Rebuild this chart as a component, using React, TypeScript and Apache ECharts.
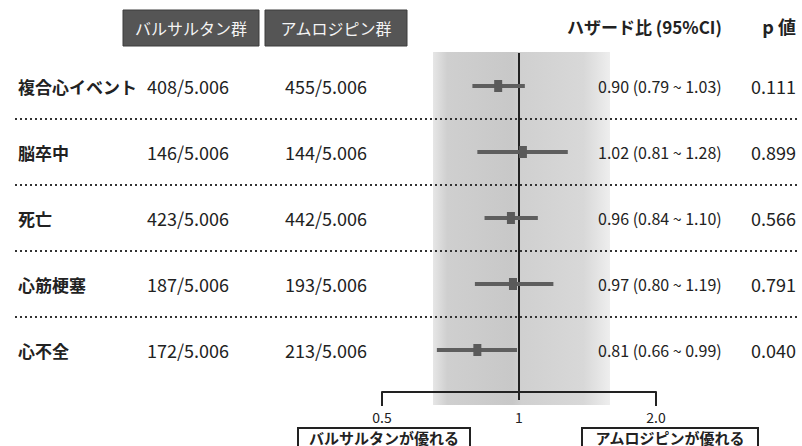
import React, { useEffect, useRef } from 'react';
import * as echarts from 'echarts';

const categories = ['複合心イベント', '脳卒中', '死亡', '心筋梗塞', '心不全'];
const valsartanEvents = ['408/5.006', '146/5.006', '423/5.006', '187/5.006', '172/5.006'];
const amlodipineEvents = ['455/5.006', '144/5.006', '442/5.006', '193/5.006', '213/5.006'];
const hazardRatio = [0.9, 1.02, 0.96, 0.97, 0.81];
const ciLower = [0.79, 0.81, 0.84, 0.8, 0.66];
const ciUpper = [1.03, 1.28, 1.1, 1.19, 0.99];
const pValues = ['0.111', '0.899', '0.566', '0.791', '0.040'];
const tickValues = [0.5, 1, 2];
const tickLabels = ['0.5', '1', '2.0'];
const groupHeaders = ['バルサルタン群', 'アムロジピン群'];
const favourLabels = ['バルサルタンが優れる', 'アムロジピンが優れる'];
const columnHeaders = ['ハザード比 (95%CI)', 'p 値'];

const JP = '"Noto Sans CJK JP", "Noto Sans", sans-serif';

export default function App() {
  const ref = useRef<HTMLDivElement>(null);
  useEffect(() => {
    if (!ref.current) return;
    const chart = echarts.init(ref.current, null, { renderer: 'svg' });
    const forestData = categories.map((_, i) => [ciLower[i], ciUpper[i], hazardRatio[i], i]);
    const textData = categories.map((_, i) => [0, i]);
    const option: any = {
      animation: false,
      backgroundColor: '#fff',
      grid: [
        { left: 382, width: 274, top: 53, height: 330 },
        { left: 15, width: 785, top: 53, height: 330 },
      ],
      xAxis: [
        {
          gridIndex: 0,
          type: 'log',
          logBase: 2,
          min: 0.5,
          max: 2,
          offset: 9,
          axisLine: { show: true, lineStyle: { color: '#222', width: 2 } },
          axisTick: { show: true, length: 14, customValues: [0.5, 2], lineStyle: { color: '#222', width: 2 } },
          axisLabel: {
            customValues: tickValues,
            margin: 18,
            color: '#222',
            fontSize: 14,
            lineHeight: 14,
            fontFamily: JP,
            formatter: (v: number) => {
              let best = 0;
              tickValues.forEach((t, k) => {
                if (Math.abs(t - v) < Math.abs(tickValues[best] - v)) best = k;
              });
              return tickLabels[best];
            },
          },
          splitLine: { show: false },
        },
        { gridIndex: 1, type: 'value', min: 0, max: 1, show: false },
      ],
      yAxis: [
        { gridIndex: 0, type: 'category', data: categories, inverse: true, show: false },
        {
          gridIndex: 1,
          type: 'category',
          data: categories,
          inverse: true,
          axisLine: { show: false },
          axisTick: { show: false },
          axisLabel: {
            inside: true,
            margin: 3,
            fontSize: 17,
            fontWeight: 'bold',
            fontFamily: JP,
            color: '#222',
          },
          splitLine: {
            show: true,
            showMinLine: false,
            showMaxLine: false,
            lineStyle: { color: '#333', width: 2, type: [2, 3] },
          },
        },
      ],
      series: [
        {
          type: 'custom',
          xAxisIndex: 0,
          yAxisIndex: 0,
          z: 5,
          data: forestData,
          encode: { x: [0, 1, 2], y: 3 },
          renderItem: (params: any, api: any) => {
            const idx = api.value(3);
            const l = api.coord([api.value(0), idx]);
            const h = api.coord([api.value(1), idx]);
            const m = api.coord([api.value(2), idx]);
            return {
              type: 'group',
              children: [
                {
                  type: 'line',
                  shape: { x1: l[0], y1: l[1], x2: h[0], y2: h[1] },
                  style: { stroke: '#5e5e5e', lineWidth: 4 },
                },
                {
                  type: 'rect',
                  shape: { x: m[0] - 4, y: m[1] - 6, width: 8, height: 12 },
                  style: { fill: '#5a5a5a' },
                },
              ],
            };
          },
        },
        {
          type: 'custom',
          xAxisIndex: 0,
          yAxisIndex: 0,
          z: 4,
          data: [[1, 0]],
          encode: { x: 0, y: 1 },
          renderItem: (params: any, api: any) => {
            const x = api.coord([api.value(0), 0])[0];
            const cs = params.coordSys;
            return {
              type: 'line',
              shape: { x1: x, y1: cs.y, x2: x, y2: cs.y + cs.height + 17 },
              style: { stroke: '#222', lineWidth: 2 },
            };
          },
        },
        {
          type: 'custom',
          xAxisIndex: 1,
          yAxisIndex: 1,
          z: 6,
          data: textData,
          encode: { x: 0, y: 1 },
          renderItem: (params: any, api: any) => {
            const i = api.value(1);
            const y = api.coord([0, i])[1];
            const base = { fill: '#222', fontFamily: JP, verticalAlign: 'middle' };
            return {
              type: 'group',
              children: [
                { type: 'text', style: { ...base, text: valsartanEvents[i], x: 147, y, fontSize: 18, align: 'left' } },
                { type: 'text', style: { ...base, text: amlodipineEvents[i], x: 285, y, fontSize: 18, align: 'left' } },
                {
                  type: 'text',
                  style: {
                    ...base,
                    text: `${hazardRatio[i].toFixed(2)} (${ciLower[i].toFixed(2)} ~ ${ciUpper[i].toFixed(2)})`,
                    x: 598,
                    y,
                    fontSize: 16,
                    align: 'left',
                  },
                },
                { type: 'text', style: { ...base, text: pValues[i], x: 796, y, fontSize: 18, align: 'right' } },
              ],
            };
          },
        },
      ],
      graphic: [
        {
          type: 'rect',
          z: -10,
          shape: { x: 433, y: 52, width: 177, height: 353 },
          style: {
            fill: new echarts.graphic.LinearGradient(0, 0, 1, 0, [
              { offset: 0, color: '#e6e6e6' },
              { offset: 0.08, color: '#cfcfcf' },
              { offset: 0.45, color: '#c8c8c8' },
              { offset: 0.5, color: '#d0d0d0' },
              { offset: 0.85, color: '#d8d8d8' },
              { offset: 1, color: '#eeeeee' },
            ]),
          },
        },
        { type: 'rect', shape: { x: 123, y: 10, width: 136, height: 36 }, style: { fill: '#555', stroke: '#3c3c3c', lineWidth: 1 } },
        { type: 'rect', shape: { x: 265, y: 10, width: 142, height: 36 }, style: { fill: '#555', stroke: '#3c3c3c', lineWidth: 1 } },
        { type: 'text', x: 191, y: 28, style: { text: groupHeaders[0], fill: '#f4f4f4', fontSize: 16, fontFamily: JP, align: 'center', verticalAlign: 'middle' } },
        { type: 'text', x: 336, y: 28, style: { text: groupHeaders[1], fill: '#f4f4f4', fontSize: 16, fontFamily: JP, align: 'center', verticalAlign: 'middle' } },
        { type: 'text', x: 567, y: 26, style: { text: columnHeaders[0], fill: '#222', fontSize: 17, fontWeight: 'bold', fontFamily: JP, align: 'left', verticalAlign: 'middle' } },
        { type: 'text', x: 796, y: 26, style: { text: columnHeaders[1], fill: '#222', fontSize: 18, fontWeight: 'bold', fontFamily: JP, align: 'right', verticalAlign: 'middle' } },
        { type: 'rect', shape: { x: 298, y: 428, width: 172, height: 24 }, style: { fill: '#fff', stroke: '#222', lineWidth: 2 } },
        { type: 'rect', shape: { x: 582, y: 428, width: 176, height: 24 }, style: { fill: '#fff', stroke: '#222', lineWidth: 2 } },
        { type: 'text', x: 384, y: 437, style: { text: favourLabels[0], fill: '#222', fontSize: 15, lineHeight: 16, fontWeight: 'bold', fontFamily: JP, align: 'center', verticalAlign: 'middle' } },
        { type: 'text', x: 670, y: 437, style: { text: favourLabels[1], fill: '#222', fontSize: 15, lineHeight: 16, fontWeight: 'bold', fontFamily: JP, align: 'center', verticalAlign: 'middle' } },
      ],
    };
    chart.setOption(option);
    return () => chart.dispose();
  }, []);
  return <div ref={ref} style={{ position: 'fixed', left: 0, top: 0, width: 802, height: 446 }} />;
}
